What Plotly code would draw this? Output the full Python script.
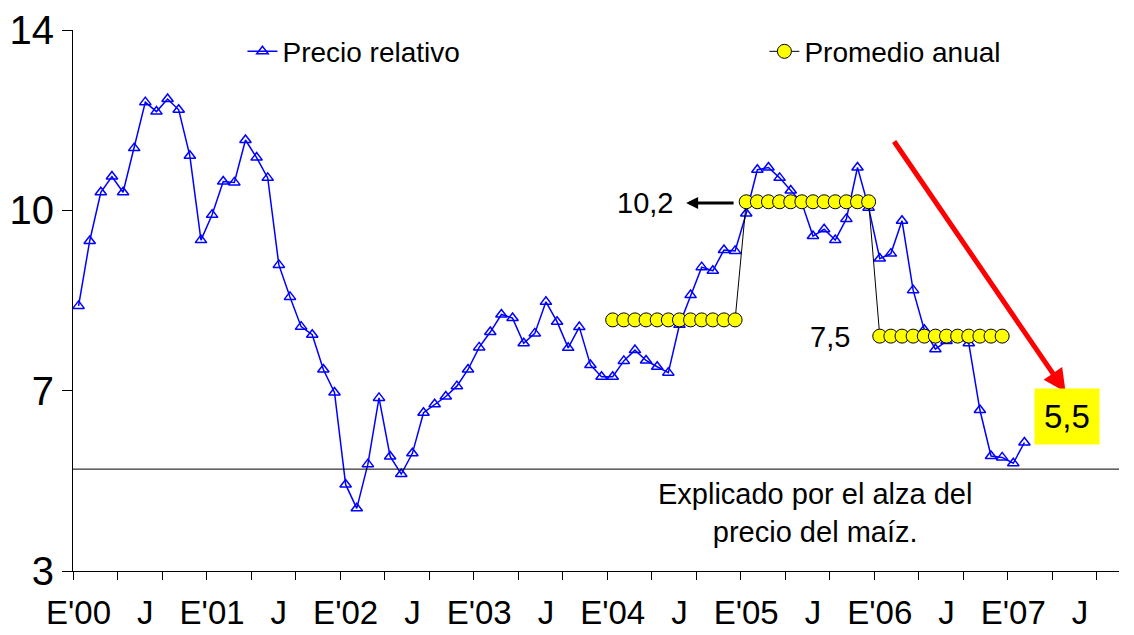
import plotly.graph_objects as go

# relative price, monthly from Jan 2000 (month 0) to Feb 2007
precio_relativo = [
    8.88, 10.32, 11.40, 11.75, 11.40, 12.38, 13.40, 13.19, 13.47, 13.23, 12.21, 10.34,
    10.90, 11.64, 11.62, 12.56, 12.17, 11.72, 9.79, 9.08, 8.42, 8.24, 7.47, 6.96,
    4.92, 4.39, 5.37, 6.84, 5.54, 5.15, 5.61, 6.51, 6.70, 6.87, 7.10, 7.47,
    7.96, 8.30, 8.69, 8.61, 8.05, 8.27, 8.97, 8.53, 7.95, 8.41, 7.57, 7.31,
    7.31, 7.66, 7.90, 7.67, 7.53, 7.40, 8.46, 9.12, 9.74, 9.66, 10.12, 10.10,
    10.93, 11.90, 11.95, 11.72, 11.44, 11.16, 10.43, 10.58, 10.34, 10.81, 11.95, 11.06,
    9.93, 10.04, 10.77, 9.23, 8.35, 7.92, 8.10, 8.17, 8.05, 6.57, 5.55, 5.52,
    5.39, 5.85,
]
meses = list(range(len(precio_relativo)))

# annual averages 2004, 2005, 2006 (months 48..83)
prom_2004 = 8.57
prom_2005 = 11.19
prom_2006 = 8.21
prom_meses = list(range(48, 84))
prom_valores = [prom_2004] * 12 + [prom_2005] * 12 + [prom_2006] * 12

nivel_maiz = 5.26

x_labels = ["E'00", "J", "E'01", "J", "E'02", "J", "E'03", "J",
            "E'04", "J", "E'05", "J", "E'06", "J", "E'07", "J"]
x_label_pos = [6 * i for i in range(len(x_labels))]
x_tick_marks = [4 * i - 0.5 for i in range(24)]

y_tickvals = [3, 7, 11, 15]
y_ticktext = ["3", "7", "10", "14"]

FONT = "Liberation Sans, Arial, sans-serif"

fig = go.Figure()

fig.add_trace(go.Scatter(
    x=meses, y=precio_relativo,
    mode="lines+markers",
    name="Precio relativo",
    line=dict(color="#0000ff", width=1.5),
    marker=dict(symbol="triangle-up-open", size=10, color="#0000ff",
                line=dict(width=1.5, color="#0000ff")),
    legend="legend", showlegend=True,
))

fig.add_trace(go.Scatter(
    x=prom_meses, y=prom_valores,
    mode="lines+markers",
    name="Promedio anual",
    line=dict(color="black", width=1),
    marker=dict(symbol="circle", size=14, color="#ffff00",
                line=dict(width=1, color="black")),
    legend="legend2", showlegend=True,
))

fig.add_shape(type="line", xref="paper", x0=0, x1=1, yref="y",
              y0=nivel_maiz, y1=nivel_maiz, line=dict(color="black", width=1))

# red trend arrow
fig.add_annotation(x=88.7, y=6.97, ax=73.2, ay=12.56, axref="x", ayref="y",
                   xref="x", yref="y", text="", showarrow=True,
                   arrowcolor="#ff0000", arrowwidth=5, arrowhead=2, arrowsize=0.9)

fig.add_annotation(x=88.8, y=6.42, text="5,5", showarrow=False,
                   bgcolor="#ffff00", font=dict(size=33, color="black", family=FONT),
                   borderpad=9)

# 10,2 label and arrow
fig.add_annotation(x=50.9, y=11.16, text="10,2", showarrow=False,
                   font=dict(size=29, color="black", family=FONT))
fig.add_annotation(x=54.6, y=11.16, ax=59.0, ay=11.16, axref="x", ayref="y",
                   text="", showarrow=True, arrowcolor="black",
                   arrowwidth=3, arrowhead=2, arrowsize=0.8)

fig.add_annotation(x=67.5, y=8.19, text="7,5", showarrow=False,
                   font=dict(size=29, color="black", family=FONT))

fig.add_annotation(x=66.2, y=4.29, text="Explicado por el alza del<br>precio del maíz.",
                   showarrow=False, align="center",
                   font=dict(size=29, color="black", family=FONT))

fig.update_xaxes(
    range=[-0.5, 93.5], automargin=False,
    showline=True, linecolor="black", linewidth=1,
    showgrid=False, zeroline=False,
    tickmode="array", tickvals=x_label_pos, ticktext=x_labels,
    ticks="", ticklabelstandoff=12,
    tickfont=dict(size=33, color="black", family=FONT),
    minor=dict(tickmode="array", tickvals=x_tick_marks, ticks="outside",
               ticklen=8, tickcolor="black", tickwidth=1, showgrid=False),
)

fig.update_yaxes(
    range=[3, 15], automargin=False,
    showline=True, linecolor="black", linewidth=1,
    showgrid=False, zeroline=False,
    tickmode="array", tickvals=y_tickvals, ticktext=y_ticktext,
    ticks="outside", ticklen=10, tickcolor="black",
    tickfont=dict(size=40, color="black", family=FONT),
)

fig.update_layout(
    width=1134, height=635,
    margin=dict(l=73, r=15, t=30, b=64),
    paper_bgcolor="white", plot_bgcolor="white",
    font=dict(family=FONT, color="black"),
    showlegend=True,
    legend=dict(x=0.162, y=0.96, xanchor="left", yanchor="middle",
                font=dict(size=28, family=FONT), bgcolor="rgba(0,0,0,0)"),
    legend2=dict(x=0.661, y=0.96, xanchor="left", yanchor="middle",
                 font=dict(size=28, family=FONT), bgcolor="rgba(0,0,0,0)"),
)

fig.write_html("out.html", config={"displayModeBar": False},
               post_script="document.body.style.margin='0px';")
